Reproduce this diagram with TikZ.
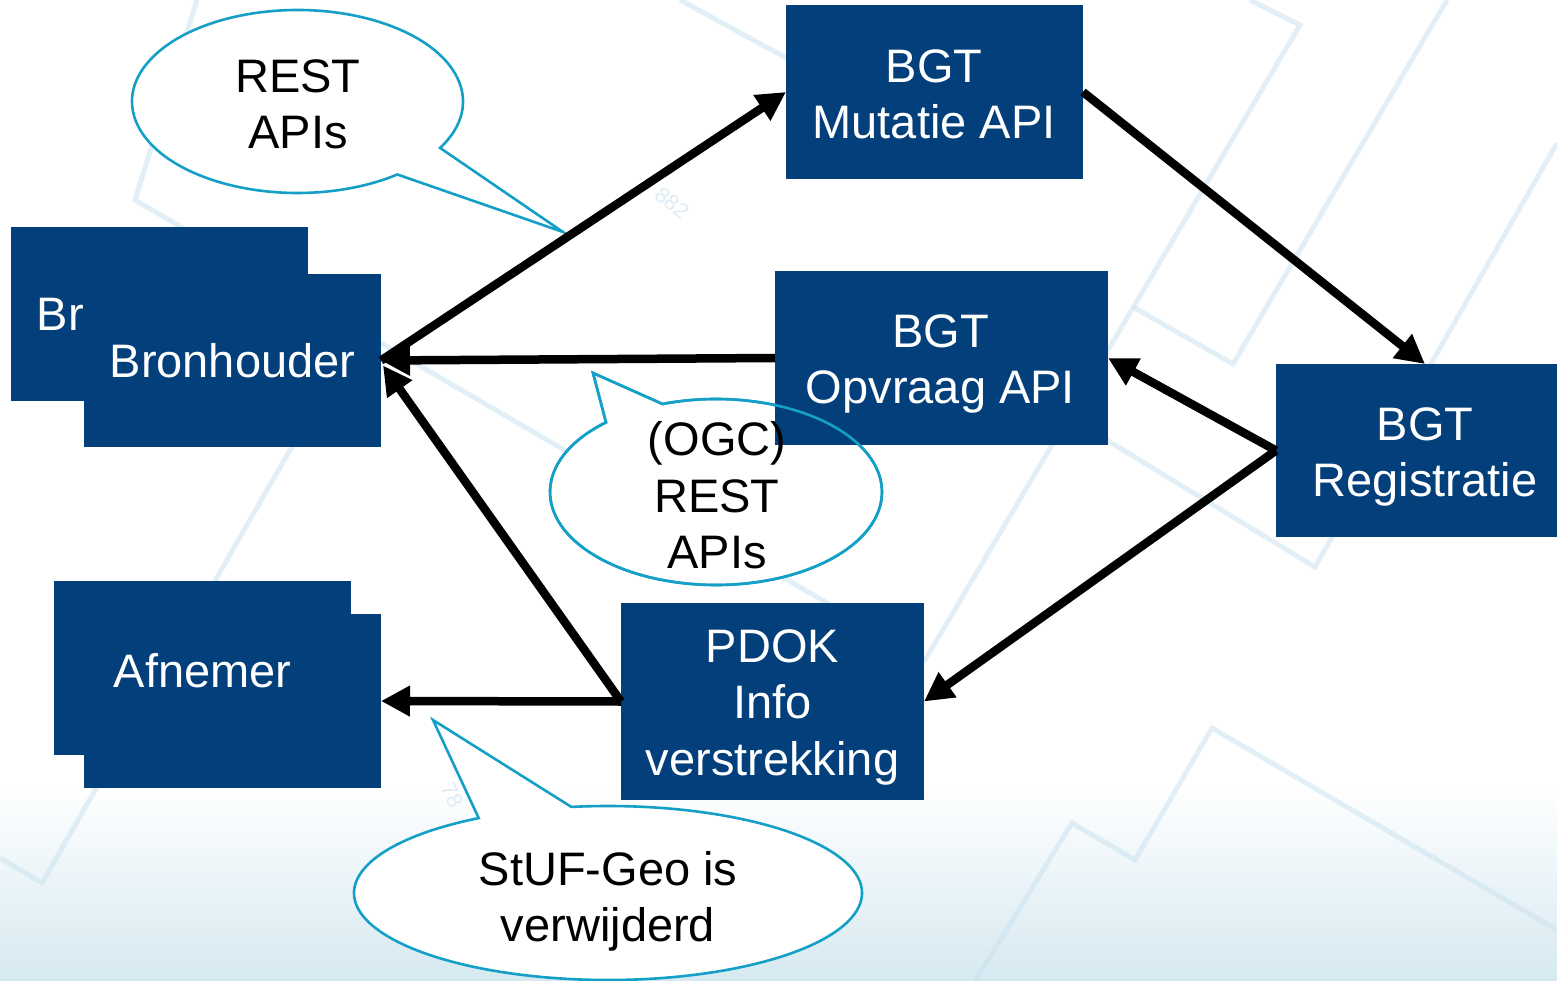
\documentclass[tikz,border=0pt]{standalone}
\usepackage{fontspec}
\setmainfont{Liberation Sans}
\usetikzlibrary{arrows.meta,calc}
\definecolor{boxblue}{RGB}{3,63,122}
\definecolor{callcyan}{RGB}{20,160,198}
\definecolor{wm}{RGB}{200,225,240}
\definecolor{gradblue}{RGB}{214,233,241}
\definecolor{wmtext}{RGB}{222,236,245}
\begin{document}
\begin{tikzpicture}[x=1pt,y=1pt,
  box/.style={rectangle, fill=boxblue, draw=none, inner sep=0pt, outer sep=0pt},
  lbl/.style={inner sep=0pt, outer sep=0pt, align=center, font=\fontsize{47}{56.5}\selectfont, text=white},
  clbl/.style={lbl, text=black},
  arr/.style={draw=black, line width=8.5pt, -{Triangle[length=29pt,width=29pt]}},
  callout/.style={fill=white, draw=callcyan, line width=2.6pt, line join=miter},
  calloutline/.style={draw=callcyan, line width=2.6pt, line join=miter},
  wmline/.style={draw=wm, draw opacity=0.5, line width=5pt},
  wmlbl/.style={text=wmtext, font=\fontsize{22}{26}\selectfont}
]
\useasboundingbox (0,0) rectangle (1557,-981);
\clip (0,0) rectangle (1557,-981);
% background
\fill[white] (0,0) rectangle (1557,-981);
\shade[top color=white, bottom color=gradblue] (0,-785) rectangle (1557,-981);
% watermark
\draw[wmline] (197,0) -- (135,-200) -- (925,-660) -- (1300,-25) -- (1250,0);
\draw[wmline] (1133,-307) -- (1233,-364) -- (1447,0);
\draw[wmline] (1557,-143) -- (1315,-567) -- (1000,-375);
\draw[wmline] (330,-380) -- (42,-883) -- (0,-858);
\draw[wmline] (975,-981) -- (1072,-823) -- (1135,-860) -- (1212,-728) -- (1557,-930);
\draw[wmline] (680,0) -- (790,-60);
\node[wmlbl, rotate=-40] (wm1) at (672,-203) {882};
\node[wmlbl, rotate=-65] (wm2) at (452,-795) {78};
% callouts
\draw[callout] (297.5,-101.5) ++(-30.5:165.5 and 91.5) arc[start angle=-30.5, end angle=307.1, x radius=165.5, y radius=91.5] -- (563,-232) -- cycle;
\draw[callout] (716,-492) ++(131.5:166 and 93) arc[start angle=131.5, end angle=468.8, x radius=166, y radius=93] -- (593,-373) -- cycle;
\draw[callout] (608,-893) ++(120.6:254 and 87) arc[start angle=120.6, end angle=458.3, x radius=254, y radius=87] -- (433,-720) -- cycle;
% boxes
\node[box, minimum width=297pt, minimum height=174pt] (mut) at (934.5,-92) {};
\node[box, minimum width=333pt, minimum height=174pt] (opv) at (941.5,-358) {};
\node[box, minimum width=298pt, minimum height=173pt] (reg) at (1425,-450.5) {};
\node[box, minimum width=303pt, minimum height=197pt] (pdok) at (772.5,-701.5) {};
\node[box, minimum width=297pt, minimum height=174pt] (bronB) at (159.5,-314) {};
\node[lbl] (bronBT) at (159.5,-319.7) {\strut Bronhouder};
\node[box, minimum width=297pt, minimum height=173pt] (bron) at (232.5,-360.5) {};
\node[box, minimum width=297pt, minimum height=174pt] (afnB) at (202.5,-668) {};
\node[box, minimum width=297pt, minimum height=174pt] (afn) at (232.5,-701) {};
% callout B outline over the box
\draw[calloutline] (716,-492) ++(131.5:166 and 93) arc[start angle=131.5, end angle=468.8, x radius=166, y radius=93] -- (593,-373) -- cycle;
% box labels
\node[lbl] (mutT) at (934,-99) {\strut BGT\\\strut Mutatie API};
\node[lbl] (opvT) at (940.5,-364) {\strut BGT\\\strut Opvraag API};
\node[lbl] (regT) at (1425,-457) {\strut BGT\\\strut Registratie};
\node[lbl] (pdokT) at (772.5,-707.2) {\strut PDOK\\\strut Info\\\strut verstrekking};
\node[lbl] (bronT) at (232.5,-366.7) {\strut Bronhouder};
\node[lbl] (afnT) at (202.5,-675.7) {\strut Afnemer};
% callout labels
\node[clbl] (restT) at (298,-109) {\strut REST\\\strut APIs};
\node[clbl] (ogcT) at (717,-500.7) {\strut (OGC)\\\strut REST\\\strut APIs};
\node[clbl] (stufT) at (608,-902) {\strut StUF-Geo is\\\strut verwijderd};
% connectors
\draw[arr] (bron.east) -- (mut.west);
\draw[arr] (opv.west) -- (bron.east);
\draw[arr] (pdok.west) -- ($(bron.east)+(2,-5)$);
\draw[arr] (pdok.west) -- (afn.east);
\draw[arr] (mut.east) -- (reg.north);
\draw[arr] (reg.west) -- (opv.east);
\draw[arr] (reg.west) -- (pdok.east);
\end{tikzpicture}
\end{document}
